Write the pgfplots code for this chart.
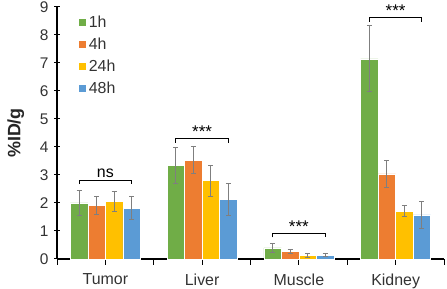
\documentclass[border=0pt]{standalone}
\usepackage{pgfplots}
\pgfplotsset{compat=1.18}
\usepackage{fontspec}
\setmainfont{Liberation Sans}
\definecolor{cg}{HTML}{70AD47}
\definecolor{co}{HTML}{ED7D31}
\definecolor{cy}{HTML}{FFC000}
\definecolor{cb}{HTML}{5B9BD5}
\definecolor{eb}{HTML}{7F7F7F}
\begin{document}
\begin{tikzpicture}
\begin{axis}[
  name=ax,
  scale only axis,
  width=387bp, height=252bp,
  xmin=-0.5, xmax=3.5, ymin=0, ymax=9,
  axis lines*=left,
  axis line style={line width=1.2bp, black},
  ybar=0pt, bar width=17.5bp,
  xtick={0,1,2,3},
  xticklabels={Tumor,Liver,Muscle,Kidney},
  extra x ticks={-0.5,0.5,1.5,2.5,3.5},
  extra x tick labels={},
  ytick={0,1,...,9},
  xtick align=outside,
  ytick align=center,
  major tick length=6bp,
  tick style={line width=1bp, black},
  every extra x tick/.style={tick style={line width=1bp, black}},
  tick label style={font=\fontsize{15.5}{18}\selectfont, text=black!80},
  xticklabel style={yshift=-5bp, font=\fontsize{16}{19}\selectfont},
  yticklabel style={xshift=-2bp},
  ylabel={\bfseries\%ID/g},
  ylabel style={font=\fontsize{18}{21}\selectfont, text=black!85, yshift=9bp},
  /pgf/number format/assume math mode=true,
  legend style={at={(rel axis cs:0.055,0.975)}, anchor=north west, draw=none, fill=none,
    font=\fontsize{16}{18}\selectfont, row sep=5bp, inner sep=0pt,
    nodes={inner sep=2bp, text=black!80}},
  legend image code/.code={\fill[#1] (0bp,-4bp) rectangle (8bp,4bp);},
  legend cell align=left,
  error bars/y dir=both,
  error bars/y explicit,
  error bars/error bar style={line width=0.9bp, eb},
  error bars/error mark options={rotate=90, mark size=2.5bp, line width=0.9bp, eb},
  clip=false,
]
\addplot[fill=cg, draw=white, line width=0.3bp] coordinates {(0,2.00) +- (0,0.46) (1,3.35) +- (0,0.64) (2,0.40) +- (0,0.15) (3,7.15) +- (0,1.18)};
\addplot[fill=co, draw=white, line width=0.3bp] coordinates {(0,1.91) +- (0,0.33) (1,3.53) +- (0,0.48) (2,0.27) +- (0,0.08) (3,3.04) +- (0,0.47)};
\addplot[fill=cy, draw=white, line width=0.3bp] coordinates {(0,2.06) +- (0,0.35) (1,2.80) +- (0,0.55) (2,0.13) +- (0,0.06) (3,1.71) +- (0,0.19)};
\addplot[fill=cb, draw=white, line width=0.3bp] coordinates {(0,1.82) +- (0,0.41) (1,2.13) +- (0,0.58) (2,0.14) +- (0,0.06) (3,1.58) +- (0,0.49)};
\legend{1h,4h,24h,48h}
\draw[line width=1bp] (axis cs:-0.271,2.67) -- (axis cs:-0.271,2.82) -- (axis cs:0.271,2.82) -- (axis cs:0.271,2.67);
\node[anchor=south, inner sep=2bp, font=\fontsize{16}{18}\selectfont] at (axis cs:0,2.82) {ns};
\draw[line width=1bp] (axis cs:0.729,4.16) -- (axis cs:0.729,4.31) -- (axis cs:1.271,4.31) -- (axis cs:1.271,4.16);
\node[anchor=south, inner sep=1bp, font=\fontsize{17}{18}\selectfont] at (axis cs:1,4.31) {***};
\draw[line width=1bp] (axis cs:1.729,0.77) -- (axis cs:1.729,0.92) -- (axis cs:2.271,0.92) -- (axis cs:2.271,0.77);
\node[anchor=south, inner sep=1bp, font=\fontsize{17}{18}\selectfont] at (axis cs:2,0.92) {***};
\draw[line width=1bp] (axis cs:2.729,8.48) -- (axis cs:2.729,8.63) -- (axis cs:3.271,8.63) -- (axis cs:3.271,8.48);
\node[anchor=south, inner sep=1bp, font=\fontsize{17}{18}\selectfont] at (axis cs:3,8.63) {***};
\end{axis}
\pgfresetboundingbox
\path[use as bounding box] ([xshift=-57bp,yshift=-30bp]ax.south west) rectangle ([xshift=3bp,yshift=7bp]ax.north east);
\end{tikzpicture}
\end{document}
